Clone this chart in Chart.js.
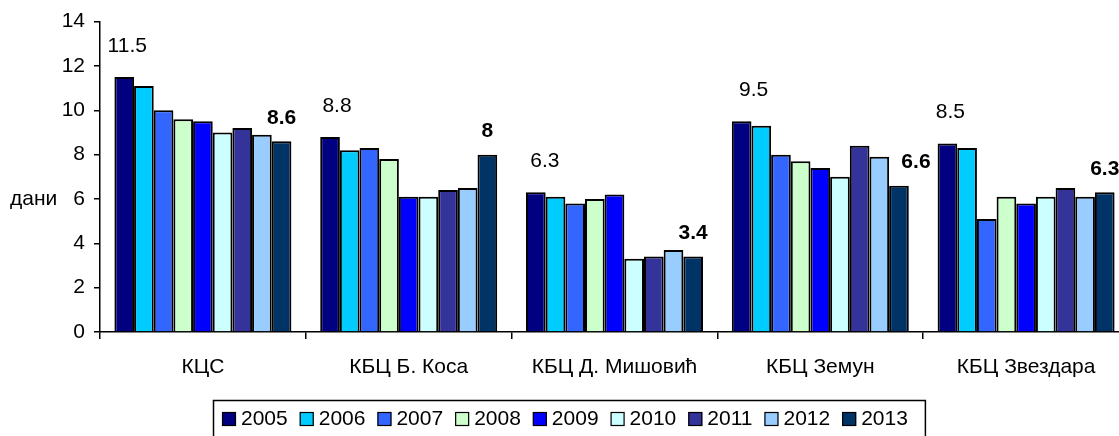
<!DOCTYPE html>
<html>
<head>
<meta charset="utf-8">
<script src="https://cdn.jsdelivr.net/npm/chart.js@4/dist/chart.umd.min.js"></script>
<style>
  html, body { margin: 0; padding: 0; background: #fff; overflow: hidden; }
  #wrap { width: 1138px; height: 436px; }
</style>
</head>
<body>
<div id="wrap"><canvas id="chart" width="1138" height="436"></canvas></div>
<script>
// categories (hospitals) and years
const categories = ['КЦС', 'КБЦ Б. Коса', 'КБЦ Д. Мишовић', 'КБЦ Земун', 'КБЦ Звездара'];
const years = ['2005', '2006', '2007', '2008', '2009', '2010', '2011', '2012', '2013'];

// values per year, in category order
const v2005 = [11.5, 8.8, 6.3, 9.5, 8.5];
const v2006 = [11.1, 8.2, 6.1, 9.3, 8.3];
const v2007 = [10.0, 8.3, 5.8, 8.0, 5.1];
const v2008 = [9.6, 7.8, 6.0, 7.7, 6.1];
const v2009 = [9.5, 6.1, 6.2, 7.4, 5.8];
const v2010 = [9.0, 6.1, 3.3, 7.0, 6.1];
const v2011 = [9.2, 6.4, 3.4, 8.4, 6.5];
const v2012 = [8.9, 6.5, 3.7, 7.9, 6.1];
const v2013 = [8.6, 8.0, 3.4, 6.6, 6.3];

// y axis ticks
const yTicks = [0, 2, 4, 6, 8, 10, 12, 14];

const seriesValues = [v2005, v2006, v2007, v2008, v2009, v2010, v2011, v2012, v2013];
const seriesColors = [
    '#000080', '#00CCFF', '#3366FF', '#CCFFCC', '#0000FF',
    '#CCFFFF', '#333399', '#99CCFF', '#003366'
];

const FONT = "'Liberation Sans', Arial, sans-serif";
Chart.defaults.color = '#000';
Chart.defaults.font.family = FONT;
Chart.defaults.font.size = 21;

//labels nudge for first/last series (Excel placed them a bit off)
const firstNudge = [3, 7, 9, 12, 3];
const lastNudge = [0, 0, 0, 17, 0];

const valueLabels = {
    id: 'valueLabels',
    afterDatasetsDraw(chart) {
        const ctx = chart.ctx;
        ctx.save();
        ctx.fillStyle = '#000';
        ctx.textAlign = 'center';
        ctx.textBaseline = 'middle';
        const last = chart.data.datasets.length - 1;

        chart.getDatasetMeta(0).data.forEach((bar, i) => {
            ctx.font = '21px ' + FONT;
            ctx.fillText(String(chart.data.datasets[0].data[i]), bar.x + firstNudge[i], bar.y - 31);
        });
        chart.getDatasetMeta(last).data.forEach((bar, i) => {
            ctx.font = 'bold 21px ' + FONT;
            ctx.fillText(String(chart.data.datasets[last].data[i]), bar.x + lastNudge[i], bar.y - 23);
        });
        ctx.restore();
    }
};

const yTitle = {
    id: 'yTitle',
    afterDraw(chart) {
        const ctx = chart.ctx;
        ctx.save();
        ctx.font = '21px ' + FONT;
        ctx.fillStyle = '#000';
        ctx.textAlign = 'left';
        ctx.textBaseline = 'middle';
        ctx.fillText('дани', 10, chart.scales.y.getPixelForValue(6));
        ctx.restore();
    }
};

// boxed legend like the excel one
const boxLegend = {
    id: 'boxLegend',
    afterDraw(chart) {
        const ctx = chart.ctx;
        ctx.save();
        ctx.font = '21px ' + FONT;
        ctx.textBaseline = 'middle';
        ctx.textAlign = 'left';

        const sets = chart.data.datasets;
        let total = 0;
        sets.forEach((ds) => { total += 19 + ctx.measureText(ds.label).width; });
        total += 12 * (sets.length - 1);
        const boxW = total + 9 + 17;
        const left = Math.round(chart.width / 2 - boxW / 2);
        const top = 400.5;

        ctx.strokeStyle = '#000';
        ctx.lineWidth = 1.5;
        ctx.strokeRect(left + 0.5, top, boxW, 60);

        let x = left + 9;
        sets.forEach((ds) => {
            ctx.fillStyle = ds.backgroundColor;
            ctx.fillRect(x, 412, 14, 14);
            ctx.lineWidth = 1.2;
            ctx.strokeRect(x + 0.5, 412.5, 13, 13);
            ctx.fillStyle = '#000';
            ctx.fillText(ds.label, x + 19, 419.5);
            x += 19 + ctx.measureText(ds.label).width + 12;
        });
        ctx.restore();
    }
};

const datasets = years.map((y, i) => ({
    label: y,
    data: seriesValues[i],
    backgroundColor: seriesColors[i],
    borderColor: '#000',
    borderWidth: 2,
    borderSkipped: 'start',
    barPercentage: 1.0,
    categoryPercentage: 0.86
}));

var barChart = new Chart(document.getElementById('chart'), {
    type: 'bar',
    data: { labels: categories, datasets: datasets },
    options: {
        responsive: false,
        animation: false,
        devicePixelRatio: 1,
        layout: { padding: { top: 21, right: 9, left: 0, bottom: 0 } },
        plugins: {
            legend: { display: false },
            tooltip: { enabled: false }
        },
        scales: {
            x: {
                grid: { offset: true, drawOnChartArea: false, drawTicks: true, tickLength: 7, color: '#000', lineWidth: 1.5 },
                border: { color: '#000', width: 1.5 },
                ticks: { padding: 16, font: { size: 21 } },
                afterFit(scale) { scale.height = 104; }
            },
            y: {
                min: 0,
                max: 14,
                afterBuildTicks(scale) { scale.ticks = yTicks.map(v => ({ value: v })); },
                grid: { drawOnChartArea: false, drawTicks: true, tickLength: 6, color: '#000', lineWidth: 1.5 },
                border: { color: '#000', width: 1.5 },
                ticks: { padding: 9, font: { size: 21 } },
                afterFit(scale) { scale.width = 100; }
            }
        }
    },
    plugins: [valueLabels, yTitle, boxLegend]
});
</script>
</body>
</html>
